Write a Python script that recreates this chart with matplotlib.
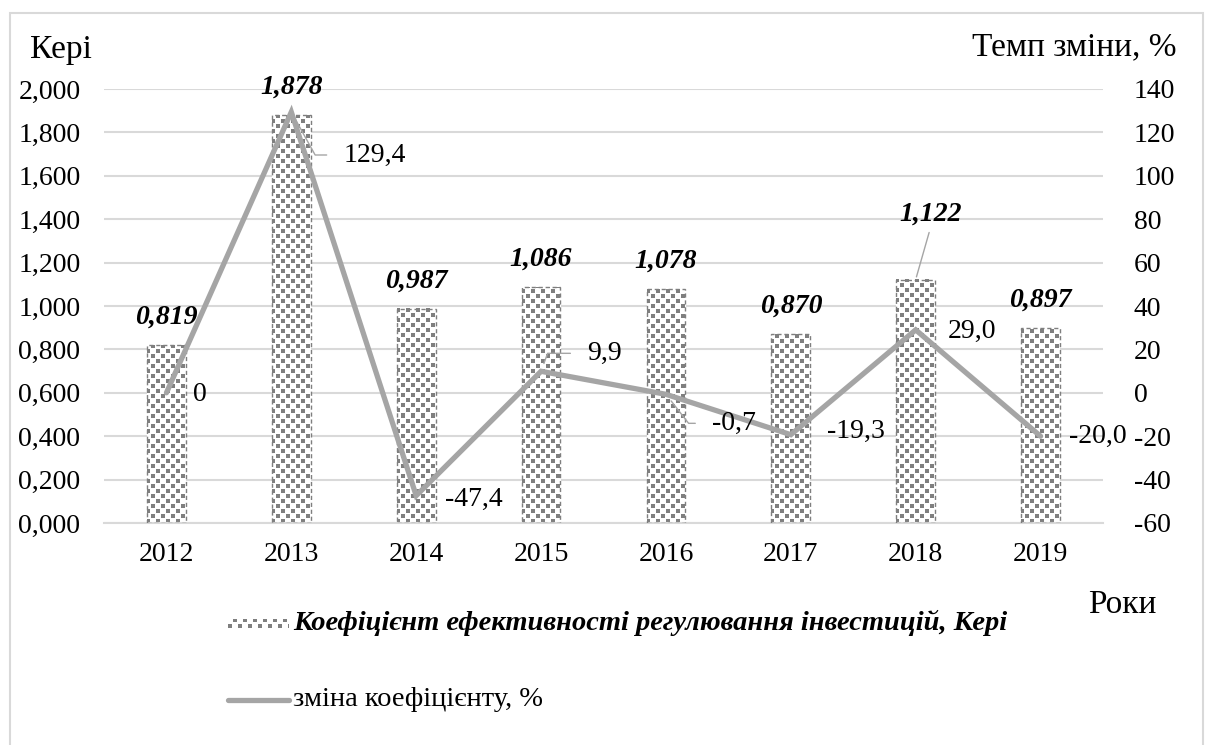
import numpy as np
import matplotlib
matplotlib.use('Agg')
import matplotlib.pyplot as plt
from matplotlib.lines import Line2D
from matplotlib.patches import Rectangle

plt.rcParams['font.family'] = ['Liberation Serif', 'DejaVu Serif']

# data
years = ['2012', '2013', '2014', '2015', '2016', '2017', '2018', '2019']
keri = [0.819, 1.878, 0.987, 1.086, 1.078, 0.870, 1.122, 0.897]
change = [0, 129.4, -47.4, 9.9, -0.7, -19.3, 29.0, -20.0]

bar_name = 'Коефіцієнт ефективності регулювання інвестицій, Кері'
line_name = 'зміна коефіцієнту, %'

W, H = 1208, 745
GRID = '#d9d9d9'
LINE = '#a5a5a5'
DARK = '#7f7f7f'
FS = 20


def fx(px):
    return px / W


def fy(py):
    return 1 - py / H


def pattern(h, w, off=0):
    # confetti-like fill: staggered dark squares on white, 10 px tile
    img = np.ones((h, w, 3))
    dark = np.array([0x7f, 0x7f, 0x7f]) / 255.0
    for r in range(h):
        for c in range(w):
            tr, tc = r % 10, (c + off) % 10
            if (tr < 4 and tc < 4) or (5 <= tr < 9 and 5 <= tc < 9):
                img[r, c] = dark
    return img


fig = plt.figure(figsize=(W / 100, H / 100), dpi=100)
ax = fig.add_axes([fx(104), fy(523), fx(1103) - fx(104), fy(89) - fy(523)])
ax2 = ax.twinx()

x = np.arange(len(years))
bw = 0.31
ax.set_xlim(-0.5, len(years) - 0.5)
ax.set_ylim(0, 2.0)
ax2.set_ylim(-60, 140)

# pixel scale of the data axes, used to size the pattern images
p0 = ax.transData.transform((0, 0))
p1 = ax.transData.transform((1, 1))
px_x = p1[0] - p0[0]
px_y = p1[1] - p0[1]

bars = ax.bar(x, keri, width=bw, facecolor='none', edgecolor=DARK,
              linewidth=1, linestyle=(0, (3, 2)), zorder=3)
for b, v in zip(bars, keri):
    x0 = b.get_x()
    wpx = int(round(bw * px_x))
    hpx = int(round(v * px_y))
    ax.imshow(pattern(hpx, wpx, 1), extent=(x0, x0 + bw, 0, v), origin='lower',
              interpolation='nearest', aspect='auto', zorder=2.5)
ax.set_xlim(-0.5, len(years) - 0.5)
ax.set_ylim(0, 2.0)

# bar value labels
for i, v in enumerate(keri):
    txt = f'{v:.3f}'.replace('.', ',')
    if years[i] == '2018':
        ax.annotate(txt, (x[i], v), xytext=(15, 65), textcoords='offset pixels',
                    ha='center', va='center', fontsize=FS, fontweight='bold',
                    fontstyle='italic', zorder=6,
                    arrowprops=dict(arrowstyle='-', color=LINE, lw=1,
                                    relpos=(0.5, 0), shrinkA=2, shrinkB=2))
    else:
        ax.annotate(txt, (x[i], v), xytext=(0, 28), textcoords='offset pixels',
                    ha='center', va='center', fontsize=FS, fontweight='bold',
                    fontstyle='italic', zorder=6)

ax.set_xticks(x)
ax.set_xticklabels(years, fontsize=FS)
ax.set_yticks(np.arange(0, 2.01, 0.2))
ax.set_yticklabels([f'{v:.3f}'.replace('.', ',') for v in np.arange(0, 2.01, 0.2)],
                   fontsize=FS)
ax.tick_params(axis='both', length=0)
ax.tick_params(axis='y', pad=17)
ax.tick_params(axis='x', pad=14)
ax.yaxis.grid(True, color=GRID, linewidth=1.5)
ax.set_axisbelow(True)
for s in ['top', 'left', 'right']:
    ax.spines[s].set_visible(False)
ax.spines['bottom'].set_color(GRID)
ax.spines['bottom'].set_linewidth(1.5)

# change line on the right axis
ax2.plot(x, change, color=LINE, linewidth=3.8, solid_joinstyle='miter',
         solid_capstyle='round', zorder=4)
ax2.set_yticks(np.arange(-60, 141, 20))
ax2.set_yticklabels([str(v) for v in range(-60, 141, 20)], fontsize=FS)
ax2.tick_params(axis='y', length=0, pad=22)
for s in ax2.spines.values():
    s.set_visible(False)

# label offsets in pixels, some with leader lines
offs = [(27, -2, None), (52, -43, -61), (29, -4, None), (46, 18, 70),
        (46, -29, -52), (36, 3, None), (32, -2, None), (28, 0, None)]
for i, v in enumerate(change):
    txt = '0' if v == 0 else f'{v:.1f}'.replace('.', ',')
    dx, dy, ang = offs[i]
    kw = {}
    if ang is not None:
        kw['arrowprops'] = dict(arrowstyle='-', color=LINE, lw=1, relpos=(0, 0.5),
                                shrinkA=10, shrinkB=6,
                                connectionstyle=f'angle,angleA=0,angleB={ang},rad=0')
    ax2.annotate(txt, (x[i], v), xytext=(dx, dy), textcoords='offset pixels',
                 ha='left', va='center', fontsize=FS, zorder=6, **kw)

# axis titles
fig.text(fx(30), fy(50), 'Кері', fontsize=24, va='center', ha='left')
fig.text(fx(1177), fy(47), 'Темп зміни, %', fontsize=24, va='center', ha='right')
fig.text(fx(1088), fy(605), 'Роки', fontsize=24, va='center', ha='left')

# legend
lax = fig.add_axes([fx(228), fy(628), fx(289) - fx(228), fy(619) - fy(628)])
lax.imshow(pattern(9, 61), origin='lower', interpolation='nearest', aspect='auto')
lax.axis('off')
fig.text(fx(293), fy(623), bar_name, fontsize=20.5, fontweight='bold',
         fontstyle='italic', va='center', ha='left')
fig.add_artist(Line2D([fx(228), fx(289)], [fy(700), fy(700)], color=LINE,
                      linewidth=3.8, solid_capstyle='round',
                      transform=fig.transFigure))
fig.text(fx(293), fy(700), line_name, fontsize=20.5, va='center', ha='left')

# outer frame
fig.add_artist(Rectangle((fx(10), fy(H + 5)), fx(1203) - fx(10), fy(13) - fy(H + 5),
                         fill=False, edgecolor=GRID, linewidth=1.5,
                         transform=fig.transFigure))

fig.savefig('out.png', dpi=100)
